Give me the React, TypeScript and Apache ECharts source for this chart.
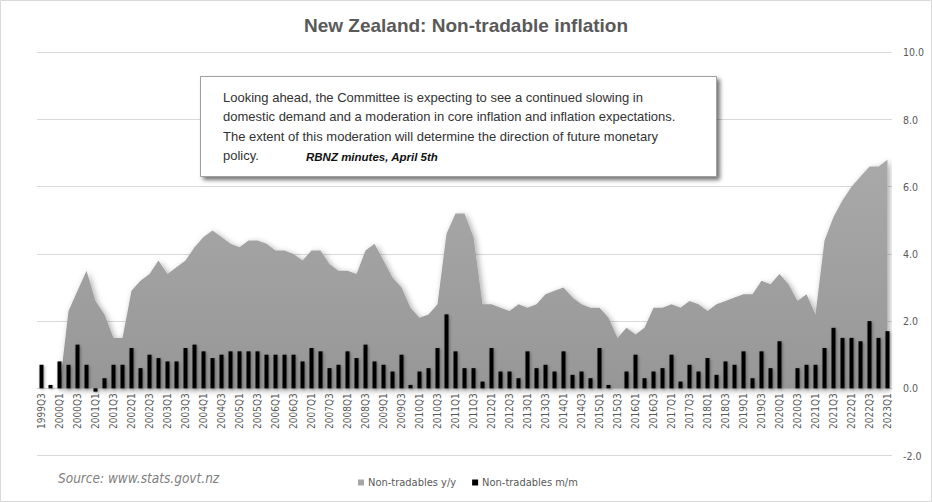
import React, { useEffect, useRef } from "react";
import * as echarts from "echarts";

const quarters: string[] = [];
for (let y = 1999; y <= 2023; y++) {
  for (let q = 1; q <= 4; q++) {
    if (y === 1999 && q < 3) continue;
    if (y === 2023 && q > 1) continue;
    quarters.push(`${y}Q${q}`);
  }
}

const yoy: (number | null)[] = [
  0, 0, 0, 2.3, 2.9, 3.5, 2.6, 2.2, 1.5, 1.5,
  2.9, 3.2, 3.4, 3.8, 3.4, 3.6, 3.8, 4.2, 4.5, 4.7,
  4.5, 4.3, 4.2, 4.4, 4.4, 4.3, 4.1, 4.1, 4.0, 3.8,
  4.1, 4.1, 3.7, 3.5, 3.5, 3.4, 4.1, 4.3, 3.8, 3.3,
  3.0, 2.4, 2.1, 2.2, 2.5, 4.6, 5.2, 5.2, 4.5, 2.5,
  2.5, 2.4, 2.3, 2.5, 2.4, 2.5, 2.8, 2.9, 3.0, 2.7,
  2.5, 2.4, 2.4, 2.1, 1.5, 1.8, 1.6, 1.8, 2.4, 2.4,
  2.5, 2.4, 2.6, 2.5, 2.3, 2.5, 2.6, 2.7, 2.8, 2.8,
  3.2, 3.1, 3.4, 3.1, 2.6, 2.8, 2.2, 4.4, 5.1, 5.6,
  6.0, 6.3, 6.6, 6.6, 6.8,
];

const mom: number[] = [
  0.7, 0.1, 0.8, 0.7, 1.3, 0.7, -0.1, 0.3, 0.7, 0.7,
  1.2, 0.6, 1.0, 0.9, 0.8, 0.8, 1.2, 1.3, 1.1, 0.9,
  1.0, 1.1, 1.1, 1.1, 1.1, 1.0, 1.0, 1.0, 1.0, 0.8,
  1.2, 1.1, 0.6, 0.7, 1.1, 0.9, 1.3, 0.8, 0.7, 0.5,
  1.0, 0.1, 0.5, 0.6, 1.2, 2.2, 1.1, 0.6, 0.6, 0.2,
  1.2, 0.5, 0.5, 0.3, 1.1, 0.6, 0.7, 0.5, 1.1, 0.4,
  0.5, 0.3, 1.2, 0.1, 0.0, 0.5, 1.0, 0.3, 0.5, 0.6,
  1.0, 0.2, 0.7, 0.5, 0.9, 0.4, 0.8, 0.7, 1.1, 0.3,
  1.1, 0.6, 1.4, 0.0, 0.6, 0.7, 0.7, 1.2, 1.8, 1.5,
  1.5, 1.4, 2.0, 1.5, 1.7,
];

const quoteLines = [
  "Looking ahead, the Committee is expecting to see a continued slowing in",
  "domestic demand and a moderation in core inflation and inflation expectations.",
  "The extent of this moderation will determine the direction of future monetary",
  "policy.",
];
const quoteSource = "RBNZ minutes, April 5th";
const sourceText = "Source: www.stats.govt.nz";
const titleText = "New Zealand: Non-tradable inflation";

const NARROW = "'Liberation Sans Narrow', 'DejaVu Sans Condensed', 'Liberation Sans', Arial, sans-serif";
const SANS = "'Liberation Sans', Arial, sans-serif";

export default function App() {
  const ref = useRef<HTMLDivElement>(null);
  useEffect(() => {
    document.body.style.margin = "0";
    const chart = echarts.init(ref.current!, null, { renderer: "svg" });
    chart.setOption({
      animation: false,
      backgroundColor: "#ffffff",
      title: {
        text: titleText,
        left: "center",
        top: 11,
        textStyle: { fontFamily: SANS, fontSize: 19, fontWeight: "bold", color: "#595959" },
      },
      grid: { left: 37, right: 40, top: 52.3, bottom: 46.5, containLabel: false },
      legend: {
        left: 353,
        top: 472,
        itemWidth: 6,
        itemHeight: 6,
        itemGap: 16,
        icon: "rect",
        textStyle: { fontFamily: NARROW, fontSize: 11, color: "#595959", padding: [0, 0, 0, -1] },
        data: ["Non-tradables y/y", "Non-tradables m/m"],
      },
      xAxis: {
        type: "category",
        data: quarters,
        boundaryGap: true,
        offset: -67.2,
        axisLine: { onZero: false, lineStyle: { color: "#d9d9d9" } },
        axisTick: { show: false },
        axisLabel: {
          rotate: 90,
          interval: 1,
          fontFamily: NARROW,
          fontSize: 10,
          color: "#595959",
          margin: 5,
        },
      },
      yAxis: {
        type: "value",
        position: "right",
        min: -2,
        max: 10,
        interval: 2,
        axisLine: { show: false },
        axisTick: { show: false },
        splitLine: { lineStyle: { color: "#d9d9d9" } },
        axisLabel: {
          formatter: (v: number) => v.toFixed(1),
          fontFamily: NARROW,
          fontSize: 10.5,
          color: "#595959",
          margin: 11,
        },
      },
      series: [
        {
          name: "Non-tradables y/y",
          type: "line",
          data: yoy,
          showSymbol: false,
          symbol: "none",
          itemStyle: { color: "#a6a6a6" },
          lineStyle: { width: 0 },
          areaStyle: {
            color: new echarts.graphic.LinearGradient(0, 0, 0, 1, [
              { offset: 0, color: "#a9a9a9" },
              { offset: 1, color: "#979797" },
            ]),
            opacity: 1,
            shadowBlur: 6,
            shadowOffsetX: 2,
            shadowOffsetY: 2,
            shadowColor: "rgba(0,0,0,0.35)",
          },
          z: 1,
        },
        {
          name: "Non-tradables m/m",
          type: "bar",
          data: mom,
          barWidth: 4,
          itemStyle: {
            color: "#000000",
            shadowBlur: 3,
            shadowOffsetX: 1,
            shadowOffsetY: 1,
            shadowColor: "rgba(0,0,0,0.35)",
          },
          z: 3,
        },
      ],
      graphic: [
        {
          type: "rect",
          shape: { x: 0.5, y: 0.5, width: 931, height: 501 },
          style: { fill: "none", stroke: "#d9d9d9", lineWidth: 1 },
          silent: true,
          z: 0,
        },
        {
          type: "rect",
          z: 100,
          shape: { x: 200.5, y: 76.5, width: 516, height: 100 },
          style: {
            fill: "#ffffff",
            stroke: "#a0a0a0",
            lineWidth: 1,
            shadowBlur: 4,
            shadowOffsetX: 3,
            shadowOffsetY: 3,
            shadowColor: "rgba(0,0,0,0.55)",
          },
        },
        ...quoteLines.map((t, i) => ({
          type: "text",
          z: 101,
          x: 223,
          y: 97 + i * 19.6,
          style: {
            text: t,
            fontFamily: SANS,
            fontSize: 13,
            fill: "#333333",
            textVerticalAlign: "middle",
          },
        })),
        {
          type: "text",
          z: 101,
          x: 306,
          y: 157,
          style: {
            text: quoteSource,
            fontFamily: SANS,
            fontSize: 11.5,
            fontWeight: "bold",
            fontStyle: "italic",
            fill: "#111111",
            textVerticalAlign: "middle",
          },
        },
        {
          type: "text",
          z: 101,
          x: 58,
          y: 478,
          style: {
            text: sourceText,
            fontFamily: NARROW,
            fontSize: 13.5,
            fontStyle: "italic",
            fill: "#808080",
            textVerticalAlign: "middle",
          },
        },
      ],
    });
    return () => chart.dispose();
  }, []);
  return <div ref={ref} style={{ width: 932, height: 502 }} />;
}
